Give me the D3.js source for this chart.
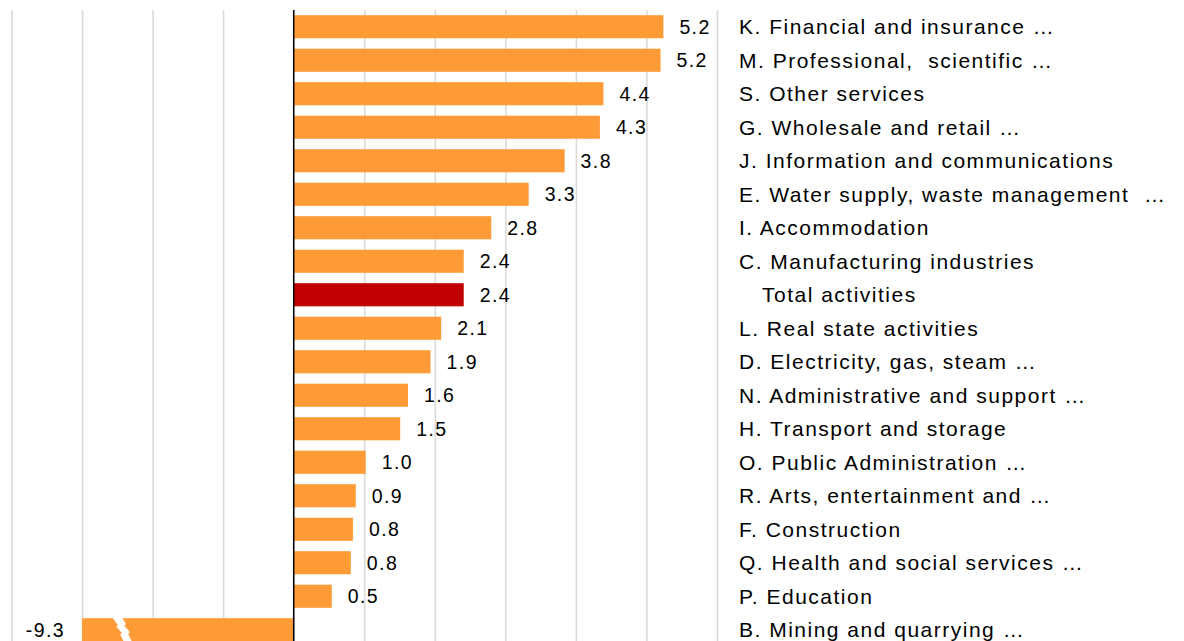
<!DOCTYPE html>
<html>
<head>
<meta charset="utf-8">
<script src="https://cdn.jsdelivr.net/npm/d3@7"></script>
<style>
  body { margin: 0; background: #fff; }
  text { font-family: "Liberation Sans", Arial, sans-serif; fill: #000; }
</style>
</head>
<body>
<div id="chart"></div>
<script>
// Sector labels, top to bottom
const categories = [
    "K. Financial and insurance …",
    "M. Professional,  scientific …",
    "S. Other services",
    "G. Wholesale and retail …",
    "J. Information and communications",
    "E. Water supply, waste management  …",
    "I. Accommodation",
    "C. Manufacturing industries",
    "Total activities",
    "L. Real state activities",
    "D. Electricity, gas, steam …",
    "N. Administrative and support …",
    "H. Transport and storage",
    "O. Public Administration …",
    "R. Arts, entertainment and …",
    "F. Construction",
    "Q. Health and social services …",
    "P. Education",
    "B. Mining and quarrying …"
];

// Annual change, %
const values = [5.24, 5.2, 4.39, 4.34, 3.84, 3.33, 2.8, 2.41, 2.41, 2.09, 1.94, 1.62, 1.51, 1.02, 0.88, 0.84, 0.81, 0.54, -9.3];

const totalLabel = "Total activities";
const gridTicks = [-4, -3, -2, -1, 0, 1, 2, 3, 4, 5, 6];

const width = 1184, height = 641;
const margin = {top: 10, left: 11.5, right: 467};

const svg = d3.select("#chart").append("svg")
    .attr("width", width)
    .attr("height", height);

const x = d3.scaleLinear()
    .domain([-4, 6])
    .range([margin.left, width - margin.right]);

const y = d3.scaleBand()
    .domain(categories)
    .range([margin.top, margin.top + categories.length * 33.5])
    .paddingInner(0.31)
    .paddingOuter(0.155);

// values below the axis minimum are cut off with a break mark
const clipMin = -3;
const fmt = v => d3.format(".1f")(v).replace("\u2212", "-");

// grid
const xAxis = d3.axisBottom(x)
    .tickValues(gridTicks)
    .tickSize(height)
    .tickFormat("");

svg.append("g")
    .attr("class", "grid")
    .attr("transform", "translate(0," + margin.top + ")")
    .call(xAxis)
    .call(g => g.select(".domain").remove())
    .call(g => g.selectAll("line")
        .attr("stroke", "#d9d9d9")
        .attr("stroke-width", 1.5));

// bars
svg.append("g").selectAll("rect")
    .data(categories)
    .join("rect")
        .attr("x", (d, i) => x(Math.min(0, Math.max(clipMin, values[i]))))
        .attr("y", d => y(d))
        .attr("width", (d, i) => Math.abs(x(Math.max(clipMin, values[i])) - x(0)))
        .attr("height", y.bandwidth())
        .attr("fill", d => d === totalLabel ? "#c00000" : "#ff9b37");

// break marks on clipped bars (lightning shape)
const bolt = [[0, -1], [10, -1], [14, 6], [12, 7], [18, 14], [16, 15], [21, 26],
              [13, 26], [8, 16], [10, 15], [4, 8], [6, 7]];
categories.forEach((d, i) => {
    if (values[i] >= clipMin) return;
    const bx = x(clipMin) + 30, by = y(d);
    svg.append("path")
        .attr("d", d3.line()(bolt.map(p => [bx + p[0], by + p[1]])) + "Z")
        .attr("fill", "#fff");
});

// zero line
svg.append("line")
    .attr("x1", x(0)).attr("x2", x(0))
    .attr("y1", margin.top).attr("y2", height)
    .attr("stroke", "#000")
    .attr("stroke-width", 1.5);

// value labels
svg.append("g").selectAll("text")
    .data(categories)
    .join("text")
        .attr("x", (d, i) => values[i] >= 0 ? x(values[i]) + 16 : x(Math.max(clipMin, values[i])) - 17)
        .attr("y", d => y(d) + y.bandwidth() / 2)
        .attr("dy", "0.35em")
        .attr("text-anchor", (d, i) => values[i] >= 0 ? "start" : "end")
        .attr("font-size", "19.5px")
        .attr("letter-spacing", "1.4px")
        .text((d, i) => fmt(values[i]));

// category labels
svg.append("g").selectAll("text")
    .data(categories)
    .join("text")
        .attr("x", d => d === totalLabel ? 762 : 739)
        .attr("y", d => y(d) + y.bandwidth() / 2)
        .attr("dy", "0.36em")
        .attr("font-size", "21px")
        .attr("letter-spacing", "1.5px")
        .style("white-space", "pre")
        .text(d => d);
</script>
</body>
</html>
